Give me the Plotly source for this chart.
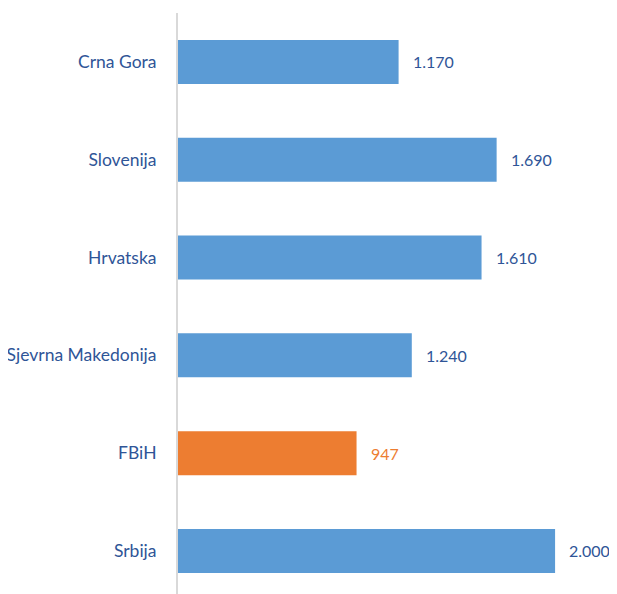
import plotly.graph_objects as go

countries = ['Crna Gora', 'Slovenija', 'Hrvatska', 'Sjevrna Makedonija', 'FBiH', 'Srbija']
values = [1170, 1690, 1610, 1240, 947, 2000]
highlight = 'FBiH'

blue = '#5B9BD5'
orange = '#ED7D31'
text_blue = '#2F5597'

bar_colors = [orange if c == highlight else blue for c in countries]
label_colors = [orange if c == highlight else text_blue for c in countries]

fig = go.Figure()
fig.add_trace(go.Bar(y=countries, x=values, orientation='h',
                     marker=dict(color=bar_colors, line=dict(width=0)),
                     width=0.45, hoverinfo='skip'))

# value labels to the right of each bar
for c, v, col in zip(countries, values, label_colors):
    fig.add_annotation(x=v, y=c, text=f"{v:,}".replace(',', '.'),
                       showarrow=False, xanchor='left', xshift=12,
                       font=dict(size=16, color=col))

# page body has an 8px margin, keep the figure inside the body box
fig.update_layout(width=601, height=586,
                  margin=dict(l=170, r=0, t=5, b=0),
                  plot_bgcolor='white', paper_bgcolor='white',
                  showlegend=False,
                  font=dict(family='Lato', size=16, color=text_blue))

fig.update_xaxes(range=[0, 2286], visible=False, showgrid=False, zeroline=False)
fig.update_yaxes(range=[5.44, -0.5], showgrid=False, zeroline=False,
                 showline=True, linecolor='#D9D9D9', linewidth=2,
                 ticks='', ticklabelstandoff=16,
                 tickfont=dict(family='Lato', size=17.5, color=text_blue))

fig.write_html("out.html")
